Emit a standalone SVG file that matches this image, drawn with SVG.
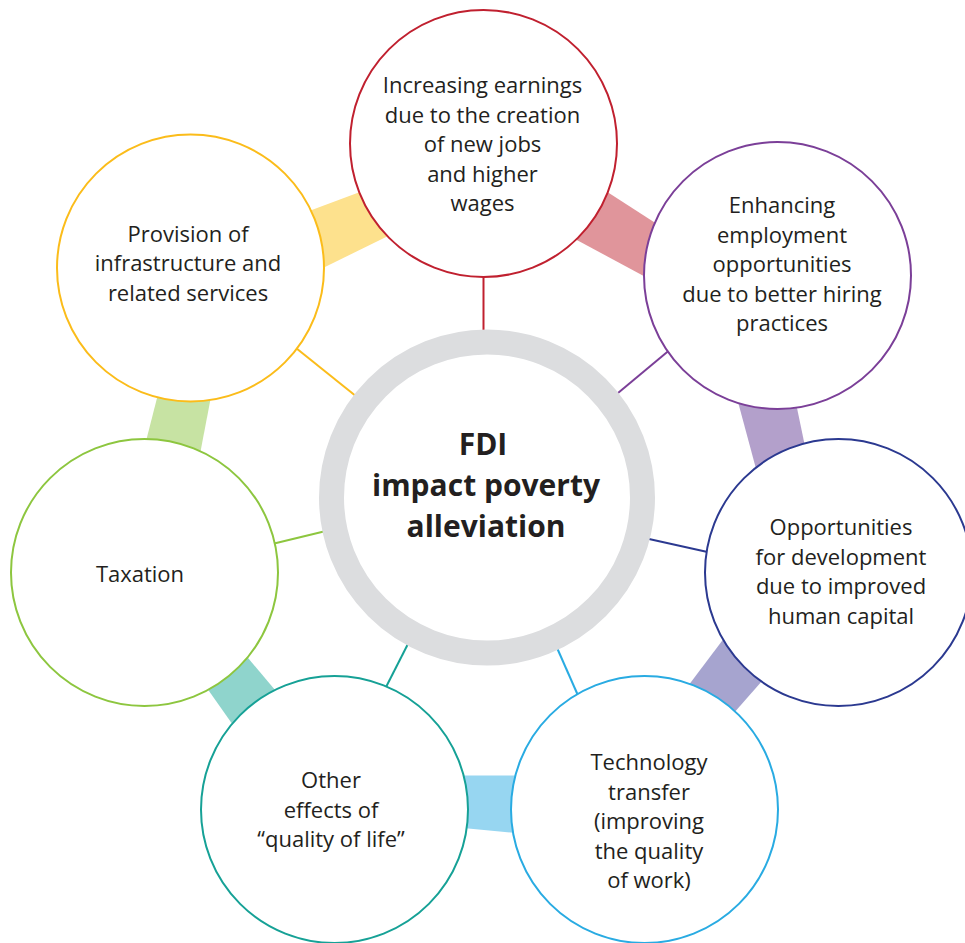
<svg xmlns="http://www.w3.org/2000/svg" width="965" height="943" viewBox="0 0 965 943">
<style>
.t{font-family:"Open Sans","Liberation Sans",sans-serif;font-size:22px;fill:#231f20;text-anchor:middle}
.b{font-family:"Open Sans","Liberation Sans",sans-serif;font-size:30px;font-weight:700;fill:#231f20;text-anchor:middle}
.n{fill:#fff;stroke-width:2}
.l{stroke-width:2;fill:none}
</style>
<rect width="965" height="943" fill="#fff"/>
<g id="connectors">
<polygon points="283.6,220.5 386.1,182.2 413.6,223.5 298,280.2" fill="#fde18d"/>
<polygon points="584.1,177.1 680.2,238.9 669.7,289.9 550.3,225.8" fill="#e0959b"/>
<polygon points="731.5,377.7 791.2,379.9 810.1,471 762.8,494" fill="#b3a0cb"/>
<polygon points="740.8,616.1 779.8,660.8 715.2,734.2 672,707.2" fill="#a6a4cf"/>
<polygon points="435,775.5 545,775.5 543,835.5 437,825.5" fill="#97d6f1"/>
<polygon points="229,635.3 294.4,713 249,747.8 191,665.5" fill="#8fd4cc"/>
<polygon points="164.1,370.2 215.8,371.5 195.2,479.3 139.3,467.4" fill="#c7e3a3"/>
<line class="l" x1="483.5" y1="270" x2="483.5" y2="340" stroke="#c0202f"/>
<line class="l" x1="612" y1="398" x2="672" y2="348" stroke="#7b3f98"/>
<line class="l" x1="640" y1="537" x2="712" y2="553" stroke="#2b3990"/>
<line class="l" x1="554" y1="641" x2="580" y2="700" stroke="#29abe2"/>
<line class="l" x1="384" y1="691" x2="412" y2="636" stroke="#16a196"/>
<line class="l" x1="268" y1="545" x2="330" y2="530" stroke="#8dc63f"/>
<line class="l" x1="291" y1="344" x2="362" y2="401" stroke="#fbbc1a"/>
</g>
<g id="center">
<circle cx="487" cy="497.5" r="155.5" fill="#fff" stroke="#dcdddf" stroke-width="25"/>
<text class="b" x="483" y="455">FDI</text>
<text class="b" x="486" y="496">impact poverty</text>
<text class="b" x="486" y="537">alleviation</text>
</g>
<g id="node-earnings">
<circle class="n" cx="483.5" cy="143.5" r="133.5" stroke="#c0202f"/>
<text class="t" x="482.5" y="93">Increasing earnings</text>
<text class="t" x="482.5" y="122.5">due to the creation</text>
<text class="t" x="482.5" y="152">of new jobs</text>
<text class="t" x="482.5" y="181.5">and higher</text>
<text class="t" x="482.5" y="211">wages</text>
</g>
<g id="node-employment">
<circle class="n" cx="777.5" cy="275.5" r="133.5" stroke="#7b3f98"/>
<text class="t" x="782" y="213">Enhancing</text>
<text class="t" x="782" y="242.5">employment</text>
<text class="t" x="782" y="272">opportunities</text>
<text class="t" x="782" y="301.5">due to better hiring</text>
<text class="t" x="782" y="331">practices</text>
</g>
<g id="node-development">
<circle class="n" cx="838.5" cy="572.5" r="133.5" stroke="#2b3990"/>
<text class="t" x="841" y="535">Opportunities</text>
<text class="t" x="841" y="564.5">for development</text>
<text class="t" x="841" y="594">due to improved</text>
<text class="t" x="841" y="623.5">human capital</text>
</g>
<g id="node-technology">
<circle class="n" cx="644.5" cy="809.5" r="133.5" stroke="#29abe2"/>
<text class="t" x="649" y="770">Technology</text>
<text class="t" x="649" y="799.5">transfer</text>
<text class="t" x="649" y="829">(improving</text>
<text class="t" x="649" y="858.5">the quality</text>
<text class="t" x="649" y="888">of work)</text>
</g>
<g id="node-quality">
<circle class="n" cx="334.5" cy="809.5" r="133.5" stroke="#16a196"/>
<text class="t" x="331" y="788">Other</text>
<text class="t" x="331" y="817.5">effects of</text>
<text class="t" x="331" y="847">“quality of life”</text>
</g>
<g id="node-taxation">
<circle class="n" cx="144.5" cy="572.5" r="133.5" stroke="#8dc63f"/>
<text class="t" x="140" y="582">Taxation</text>
</g>
<g id="node-infrastructure">
<circle class="n" cx="190.5" cy="268" r="133.5" stroke="#fbbc1a"/>
<text class="t" x="188" y="241.5">Provision of</text>
<text class="t" x="188" y="271">infrastructure and</text>
<text class="t" x="188" y="300.5">related services</text>
</g>
</svg>
